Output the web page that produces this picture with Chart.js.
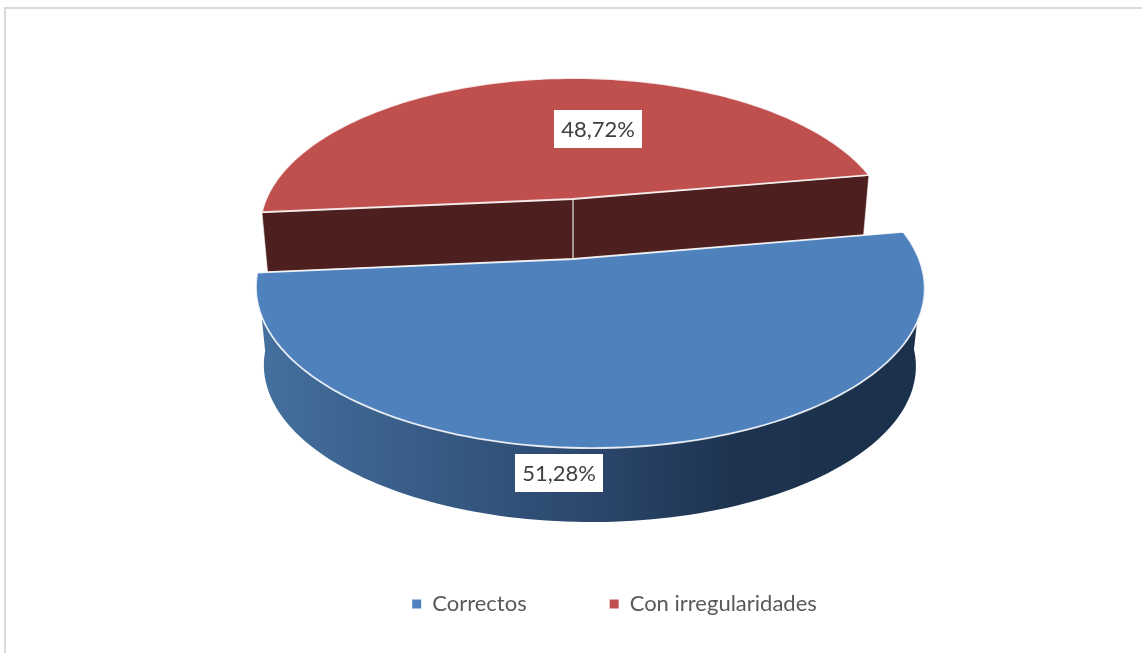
<!DOCTYPE html>
<html>
<head>
<meta charset="utf-8">
<style>
  html, body { margin: 0; background: #fff; overflow: hidden; }
  #frame { position: absolute; left: 4px; top: 7px; width: 1136px; height: 646px;
           border-left: 2px solid #d9d9d9; border-top: 2px solid #d9d9d9; }
  canvas { position: absolute; left: 0; top: 0; }
</style>
</head>
<body>
<div id="frame"></div>
<canvas id="pieChart" width="1145" height="653"></canvas>
<script src="https://cdn.jsdelivr.net/npm/chart.js@4"></script>
<script>
const categories = ["Correctos", "Con irregularidades"];
const values = [51.28, 48.72];
const topColors = ["#4f81bd", "#c0504d"];

// each slice has its own perspective plane, fitted by eye to the picture
const faces = [
    { px: 573, py: 259, ux: 328, uy: -5, vx: 9, vy: 155, m: -0.046, k: -0.18, drop: 78.7, shrink: 0.975, label: [559, 473] },
    { px: 573, py: 199, ux: 308.6, uy: -4.5, vx: 10, vy: 145, m: 0, k: -0.2, drop: 60, shrink: 0.982, label: [598, 129] }
];

function project(face, angle, shrink = 1, drop = 0) {
    const c = Math.cos(angle), s = Math.sin(angle);
    const w = 1 + face.m * c + face.k * s;
    return [
        face.px + shrink * (face.ux * c + face.vx * s) / w,
        face.py + drop + shrink * (face.uy * c + face.vy * s) / w
    ];
}

function arcPoints(face, from, to, shrink, drop) {
    const pts = [];
    const steps = 120;
    for (let i = 0; i <= steps; i++) {
        pts.push(project(face, from + (to - from) * i / steps, shrink, drop));
    }
    return pts;
}

function tracePath(ctx, pts) {
    ctx.beginPath();
    pts.forEach((p, i) => i ? ctx.lineTo(p[0], p[1]) : ctx.moveTo(p[0], p[1]));
}

function drawRedWall(ctx, arc, face) {
    const apex = [face.px, face.py];
    const left = project(face, arc.startAngle);
    const right = project(face, arc.endAngle);
    const apexLow = [face.px, face.py + face.drop];
    const leftLow = project(face, arc.startAngle, face.shrink, face.drop);
    const rightLow = project(face, arc.endAngle, face.shrink, face.drop);
    tracePath(ctx, [left, apex, right, rightLow, apexLow, leftLow]);
    ctx.closePath();
    ctx.fillStyle = "#4d1f1e";
    ctx.fill();
    ctx.strokeStyle = "rgba(255,255,255,0.6)";
    ctx.lineWidth = 1.2;
    ctx.stroke();
    tracePath(ctx, [apex, apexLow]);
    ctx.strokeStyle = "rgba(255,255,255,0.7)";
    ctx.lineWidth = 1.5;
    ctx.stroke();
}

function drawBlueWall(ctx, arc, face) {
    const from = arc.startAngle + 14 * Math.PI / 180;
    const to = arc.endAngle;
    const upper = arcPoints(face, from, to);
    const lower = arcPoints(face, from, to, face.shrink, face.drop).reverse();
    tracePath(ctx, upper.concat(lower));
    ctx.closePath();
    const grad = ctx.createLinearGradient(258, 0, 925, 0);
    grad.addColorStop(0, "#44709f");
    grad.addColorStop(0.5, "#2b476c");
    grad.addColorStop(0.72, "#1d334f");
    grad.addColorStop(1, "#1b304a");
    ctx.fillStyle = grad;
    ctx.fill();
}

function drawTop(ctx, arc, face, color) {
    const pts = arcPoints(face, arc.startAngle, arc.endAngle);
    pts.push([face.px, face.py]);
    tracePath(ctx, pts);
    ctx.closePath();
    ctx.fillStyle = color;
    ctx.fill();
    ctx.strokeStyle = "rgba(255,255,255,0.85)";
    ctx.lineWidth = 1.8;
    ctx.stroke();
}

function drawLabel(ctx, text, pos) {
    ctx.fillStyle = "#fff";
    ctx.fillRect(pos[0] - 44, pos[1] - 19, 88, 38);
    ctx.font = "22px Lato";
    ctx.fillStyle = "#404040";
    ctx.textAlign = "center";
    ctx.textBaseline = "middle";
    ctx.fillText(text, pos[0], pos[1] + 1);
}

const pie3d = {
    id: "pie3d",
    beforeDatasetsDraw(chart) {
        const ctx = chart.ctx;
        const arcs = chart.getDatasetMeta(0).data;
        ctx.save();
        drawRedWall(ctx, arcs[1], faces[1]);
        drawTop(ctx, arcs[1], faces[1], arcs[1].options.backgroundColor);
        drawBlueWall(ctx, arcs[0], faces[0]);
        drawTop(ctx, arcs[0], faces[0], arcs[0].options.backgroundColor);
        values.forEach((v, i) => {
            drawLabel(ctx, v.toFixed(2).replace(".", ",") + "%", faces[i].label);
        });
        ctx.restore();
        return false;
    }
};

new Chart(document.getElementById("pieChart").getContext("2d"), {
    type: "pie",
    data: {
        labels: categories,
        datasets: [{
            data: values,
            backgroundColor: topColors,
            borderWidth: 0
        }]
    },
    options: {
        responsive: false,
        animation: false,
        rotation: 82,
        layout: { padding: { left: 84, bottom: 28 } },
        plugins: {
            tooltip: { enabled: false },
            legend: {
                position: "bottom",
                labels: {
                    boxWidth: 9,
                    boxHeight: 9,
                    padding: 83,
                    color: "#595959",
                    font: { family: "Lato", size: 22 }
                }
            }
        }
    },
    plugins: [pie3d]
});
</script>
</body>
</html>
